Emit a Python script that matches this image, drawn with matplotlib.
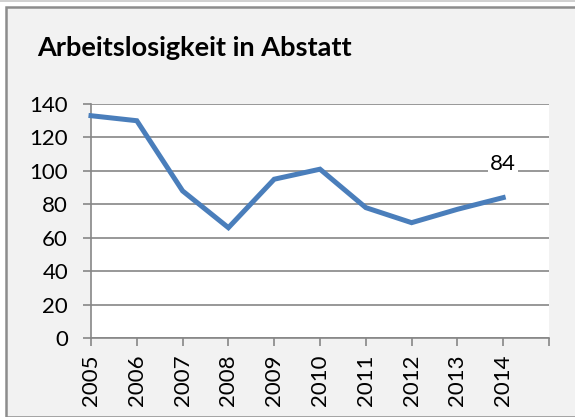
import matplotlib
matplotlib.use("Agg")
import matplotlib.pyplot as plt
from matplotlib.patches import Rectangle

years = ["2005", "2006", "2007", "2008", "2009", "2010", "2011", "2012", "2013", "2014"]
values = [133, 130, 88, 66, 95, 101, 78, 69, 77, 84]
yticks = [0, 20, 40, 60, 80, 100, 120, 140]

W, H = 575, 417
fig = plt.figure(figsize=(W / 100, H / 100), dpi=100)
fig.patch.set_facecolor("white")

# chart frame
frame = Rectangle((6 / W, 0), 2, (H - 7) / H, transform=fig.transFigure,
                  facecolor="#f2f2f2", edgecolor="#8c8c8c", linewidth=1.8, zorder=-5)
fig.patches.append(frame)
fig.add_artist(plt.Line2D([0, 1], [1 - 0.5 / H, 1 - 0.5 / H], transform=fig.transFigure,
                          color="#c8c8c8", linewidth=1.2, zorder=-5))

ax = fig.add_axes([91 / W, (H - 338) / H, (549 - 91) / W, (338 - 104) / H])
ax.set_zorder(2)
ax.set_facecolor("white")
x = list(range(len(years)))
ax.plot(x, values, color="#4a7ebb", linewidth=3.6, solid_joinstyle="miter", zorder=3, clip_on=False)

ax.set_xlim(0, len(years))
ax.set_ylim(0, 140)
ax.set_yticks(yticks)
ax.set_yticklabels([str(v) for v in yticks])
ax.set_xticks(list(range(len(years) + 1)))
ax.set_xticklabels(years + [""], rotation=90)
ax.grid(axis="y", color="#868686", linewidth=1.2)
ax.set_axisbelow(True)
for s in ["top", "right"]:
    ax.spines[s].set_visible(False)
for s in ["left", "bottom"]:
    ax.spines[s].set_color("#868686")
    ax.spines[s].set_linewidth(1.2)
ax.tick_params(axis="both", colors="#868686", labelcolor="black", width=1.2, length=5.5,
               labelsize=16)
ax.tick_params(axis="y", pad=11)
ax.tick_params(axis="x", pad=6.5)
for lab in ax.get_xticklabels() + ax.get_yticklabels():
    lab.set_fontfamily("Lato")

ax.annotate(str(values[-1]), (x[-1], values[-1]), xytext=(0, 34), textcoords="offset pixels",
            ha="center", va="center", fontsize=16, fontfamily="Lato",
            bbox=dict(boxstyle="square,pad=0.1", facecolor="white", edgecolor="none"), zorder=4)

fig.text(37 / W, 1 - 48 / H, "Arbeitslosigkeit in Abstatt", fontsize=19.5, fontweight="bold",
         fontfamily="Lato", ha="left", va="center")

fig.savefig("out.png", dpi=100, facecolor=fig.get_facecolor())
